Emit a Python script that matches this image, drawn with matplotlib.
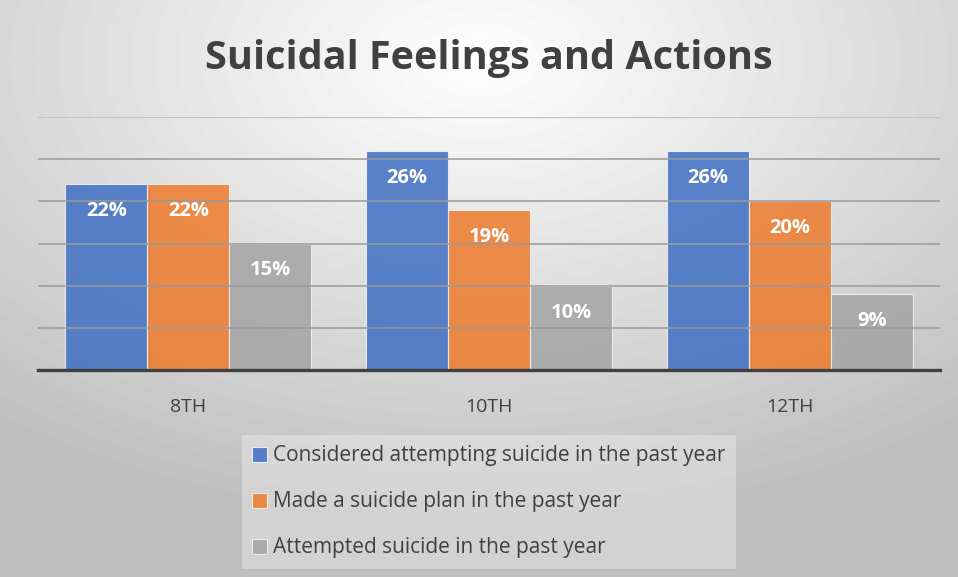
import numpy as np
import matplotlib
matplotlib.use('Agg')
import matplotlib.pyplot as plt

# chart data
grades = ['8TH', '10TH', '12TH']
considered = [22, 26, 26]
plan = [22, 19, 20]
attempted = [15, 10, 9]
series_names = ['Considered attempting suicide in the past year',
                'Made a suicide plan in the past year',
                'Attempted suicide in the past year']
colors = ['#4472C4', '#ED7D31', '#A5A5A5']

plt.rcParams['font.family'] = ['Open Sans', 'DejaVu Sans']

fig = plt.figure(figsize=(9.58, 5.77), dpi=100)

# radial gradient background
bg = fig.add_axes([0, 0, 1, 1], zorder=-10)
yy, xx = np.mgrid[0:577, 0:958]
r = np.sqrt(((xx - 479) / 958.0) ** 2 + ((yy - 60) / 577.0) ** 2)
shade = np.clip(1.0 - 0.28 * r / 0.9, 0.75, 1.0)
bg.imshow(shade, cmap='gray', vmin=0, vmax=1, aspect='auto', extent=[0, 1, 0, 1])
bg.axis('off')

ax = fig.add_axes([38 / 958, 1 - 370 / 577, 902 / 958, 253 / 577])
ax.patch.set_alpha(0)

x = np.arange(len(grades))
w = 0.273
for i, (vals, c, name) in enumerate(zip([considered, plan, attempted], colors, series_names)):
    bars = ax.bar(x + (i - 1) * w, vals, w, color=c, alpha=0.88, edgecolor='#f2f2f2',
                  linewidth=0.8, label=name, zorder=2)
    for b, v in zip(bars, vals):
        ax.text(b.get_x() + b.get_width() / 2, v - 3.2, f'{v}%', ha='center', va='center',
                color='white', fontsize=14.5, fontweight='bold', zorder=4)

ax.set_xlim(-0.5, 2.5)
ax.set_ylim(0, 30)
ax.set_yticks([5, 10, 15, 20, 25])
ax.yaxis.grid(True, color='#9a9a9a', linewidth=1.1, zorder=3)
ax.axhline(30, color='#c4c4c4', linewidth=0.9, zorder=1)
ax.set_axisbelow(False)
ax.tick_params(axis='y', left=False, labelleft=False)
ax.tick_params(axis='x', bottom=False, labelsize=14, labelcolor='#404040', pad=17)
ax.set_xticks(x)
ax.set_xticklabels(grades)
for s in ['top', 'right', 'left']:
    ax.spines[s].set_visible(False)
ax.spines['bottom'].set_color('#404040')
ax.spines['bottom'].set_linewidth(2.4)
ax.spines['bottom'].set_zorder(5)

fig.text(489 / 958, 1 - 58 / 577, 'Suicidal Feelings and Actions', ha='center', va='center',
         fontsize=28.5, fontweight='bold', color='#404040')

leg = fig.legend(loc='center', bbox_to_anchor=(489 / 958, 1 - 502 / 577), ncol=1,
                 fontsize=15, frameon=True, fancybox=False, handlelength=0.7, handleheight=0.7,
                 handletextpad=0.3, labelspacing=1.2, borderpad=0.5, borderaxespad=0,
                 labelcolor='#404040')
leg.get_frame().set_facecolor('white')
leg.get_frame().set_alpha(0.3)
leg.get_frame().set_edgecolor('none')

fig.savefig('out.png', dpi=100)
